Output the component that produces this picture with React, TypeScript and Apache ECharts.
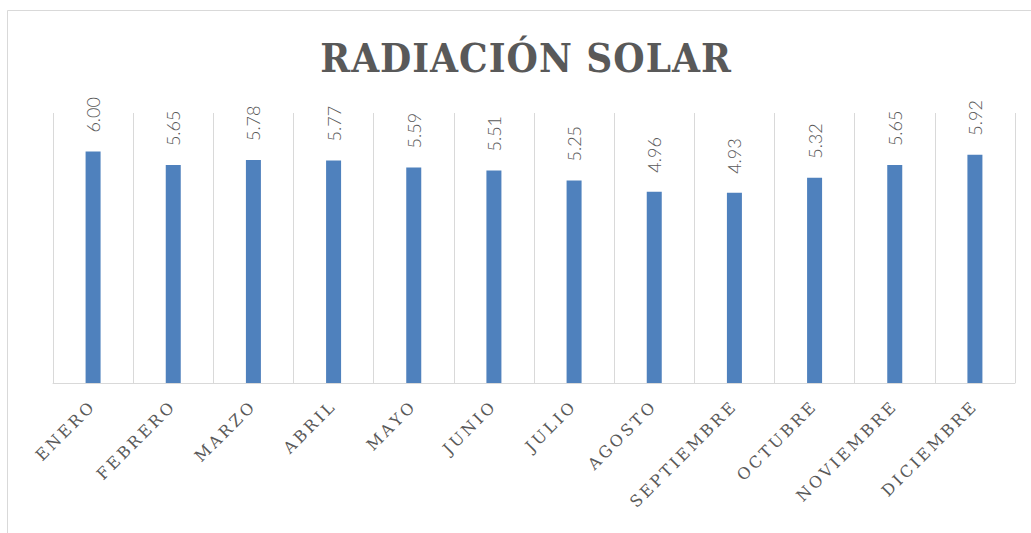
import React, { useEffect, useRef } from "react";
import * as echarts from "echarts";

const categories = ["ENERO", "FEBRERO", "MARZO", "ABRIL", "MAYO", "JUNIO", "JULIO", "AGOSTO", "SEPTIEMBRE", "OCTUBRE", "NOVIEMBRE", "DICIEMBRE"];
const radiation = [6.0, 5.65, 5.78, 5.77, 5.59, 5.51, 5.25, 4.96, 4.93, 5.32, 5.65, 5.92];
const titleText = "RADIACIÓN SOLAR";

export default function App() {
  const ref = useRef<HTMLDivElement>(null);
  useEffect(() => {
    if (!ref.current) return;
    const chart = echarts.init(ref.current, null, { renderer: "svg" });
    chart.setOption({
      animation: false,
      backgroundColor: "#ffffff",
      graphic: [
        {
          type: "rect",
          shape: { x: 7.5, y: 10.5, width: 1200, height: 700 },
          style: { fill: "none", stroke: "#d9d9d9", lineWidth: 1 },
          silent: true,
          z: -1,
        },
        {
          type: "text",
          x: 526,
          y: 57,
          style: {
            text: titleText,
            fill: "#595959",
            font: "bold 40px 'DejaVu Serif Condensed', 'DejaVu Serif'",
            align: "center",
            verticalAlign: "middle",
          },
        },
      ],
      grid: { left: 53, right: 16, top: 113, bottom: 150, containLabel: false },
      xAxis: {
        type: "category",
        data: categories,
        boundaryGap: true,
        axisLine: { show: true, lineStyle: { color: "#d9d9d9", width: 1 } },
        axisTick: { show: false },
        splitLine: { show: true, lineStyle: { color: "#d9d9d9", width: 1 } },
        axisLabel: {
          interval: 0,
          rotate: 45,
          margin: 20,
          color: "#595959",
          fontFamily: "DejaVu Serif",
          fontSize: 16,
        },
      },
      yAxis: {
        type: "value",
        min: 0,
        max: 7,
        show: false,
        splitLine: { show: false },
      },
      series: [
        {
          type: "bar",
          data: radiation,
          barWidth: 15,
          itemStyle: { color: "#4F81BD" },
          label: {
            show: true,
            position: "top",
            rotate: 90,
            align: "left",
            verticalAlign: "middle",
            distance: 19,
            color: "#595959",
            fontFamily: "Lato",
            fontWeight: 300,
            fontSize: 18,
            formatter: (p: any) => Number(p.value).toFixed(2),
          },
        },
      ],
    });
    return () => chart.dispose();
  }, []);
  return (
    <>
      <style>{`#chartbox text[style*="DejaVu Serif"]:not([style*="bold"]) { letter-spacing: 3px; }
#chartbox text[style*="bold"][style*="DejaVu Serif"] { letter-spacing: 1px; }`}</style>
      <div
        id="chartbox"
        ref={ref}
        style={{ position: "fixed", left: 0, top: 0, width: 1031, height: 533 }}
      />
    </>
  );
}
